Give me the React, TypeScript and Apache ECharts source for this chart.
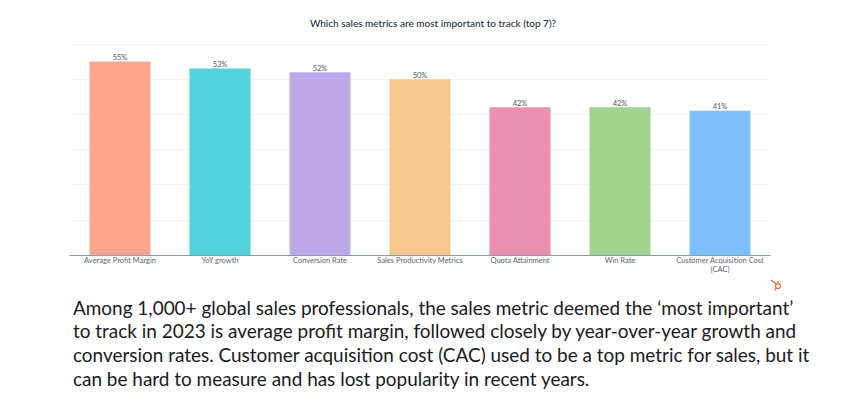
import React, { useEffect, useRef } from "react";
import * as echarts from "echarts";

const titleText = "Which sales metrics are most important to track (top 7)?";
const categories = [
  "Average Profit Margin",
  "YoY growth",
  "Conversion Rate",
  "Sales Productivity Metrics",
  "Quota Attainment",
  "Win Rate",
  "Customer Acquisition Cost\n(CAC)",
];
const values = [55, 53, 52, 50, 42, 42, 41];
const colors = ["#FFA58D", "#51D3D9", "#BDA9E8", "#F5C68D", "#EA90B1", "#A2D28F", "#7FBFFF"];
const paragraph = [
  "Among 1,000+ global sales professionals, the sales metric deemed the ‘most important’",
  "to track in 2023 is average profit margin, followed closely by year-over-year growth and",
  "conversion rates. Customer acquisition cost (CAC) used to be a top metric for sales, but it",
  "can be hard to measure and has lost popularity in recent years.",
];

export default function App() {
  const ref = useRef<HTMLDivElement>(null);
  useEffect(() => {
    const chart = echarts.init(ref.current!, null, { renderer: "svg" });
    chart.setOption({
      animation: false,
      backgroundColor: "#fff",
      textStyle: { fontFamily: "Lato" },
      grid: { left: 70, right: 96, top: 44, bottom: 160 },
      xAxis: {
        type: "category",
        data: categories,
        axisTick: { show: false },
        axisLine: { lineStyle: { color: "#8A9BA8", width: 1 } },
        axisLabel: { color: "#5C6670", fontSize: 7.5, margin: 1, lineHeight: 9, interval: 0 },
      },
      yAxis: {
        type: "value",
        min: 0,
        max: 60,
        interval: 10,
        axisLabel: { show: false },
        axisLine: { show: false },
        axisTick: { show: false },
        splitLine: { lineStyle: { color: "#F3F3F3", width: 1 } },
      },
      series: [
        {
          type: "bar",
          barWidth: 61,
          data: values.map((v, i) => ({ value: v, itemStyle: { color: colors[i] } })),
          label: {
            show: true,
            position: "top",
            distance: 0,
            formatter: "{c}%",
            color: "#4F5860",
            fontSize: 7.5,
          },
        },
      ],
      graphic: [
        {
          type: "text",
          x: 433,
          y: 23,
          style: {
            text: titleText,
            align: "center",
            verticalAlign: "middle",
            fontFamily: "Lato",
            fontSize: 10,
            fontWeight: 500,
            fill: "#213343",
          },
        },
        ...paragraph.map((t, i) => ({
          type: "text",
          x: 73,
          y: 307 + i * 23.7,
          style: {
            text: t,
            verticalAlign: "middle",
            fontFamily: "Lato",
            fontSize: 18.95,
            fill: "#1a1a24",
          },
        })),
        {
          type: "group",
          x: 775,
          y: 285,
          children: [
            { type: "circle", shape: { cx: 3, cy: 1, r: 2.5 }, style: { fill: "none", stroke: "#F26A3C", lineWidth: 1.3 } },
            { type: "line", shape: { x1: -4, y1: -5, x2: 1, y2: -1 }, style: { stroke: "#F26A3C", lineWidth: 1.2 } },
            { type: "line", shape: { x1: 3, y1: -4, x2: 3, y2: -1.5 }, style: { stroke: "#F26A3C", lineWidth: 1.2 } },
            { type: "line", shape: { x1: 1.5, y1: 3, x2: -0.5, y2: 5 }, style: { stroke: "#F26A3C", lineWidth: 1.2 } },
          ],
        },
      ],
    });
    return () => chart.dispose();
  }, []);
  return <div ref={ref} style={{ width: 866, height: 415, position: "absolute", left: 0, top: 0 }} />;
}
